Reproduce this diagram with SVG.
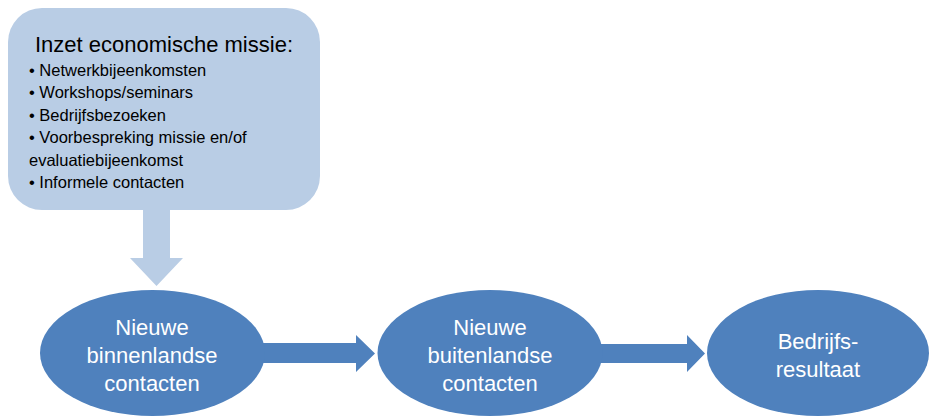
<svg xmlns="http://www.w3.org/2000/svg" width="929" height="416" viewBox="0 0 929 416">
<style>
.box{fill:#b9cde5}
.ell{fill:#4f81bd}
.arr{fill:#4f81bd}
.dn{fill:#b9cde5}
.t{font-family:"Liberation Sans",Arial,sans-serif;fill:#000}
.w{font-family:"Liberation Sans",Arial,sans-serif;fill:#fff;font-size:22px;text-anchor:middle}
</style>
<rect width="929" height="416" fill="#fff"/>
<g id="connectors">
<polygon class="dn" points="143,205 170,205 170,258 183,258 156.5,286 130,258 143,258"/>
<polygon class="arr" points="262,343 356,343 356,335 375,353.5 356,372 356,363 262,363"/>
<polygon class="arr" points="600,344 687,344 687,335 705,353.5 687,372 687,363 600,363"/>
</g>
<g id="missie">
<rect class="box" x="8" y="8" width="312" height="202" rx="34" ry="34"/>
<text class="t" x="164" y="52" font-size="22" text-anchor="middle">Inzet economische missie:</text>
<g font-size="16.5">
<text class="t" x="29" y="76">• Netwerkbijeenkomsten</text>
<text class="t" x="29" y="98">• Workshops/seminars</text>
<text class="t" x="29" y="121">• Bedrijfsbezoeken</text>
<text class="t" x="29" y="143">• Voorbespreking missie en/of</text>
<text class="t" x="29" y="166">evaluatiebijeenkomst</text>
<text class="t" x="29" y="188">• Informele contacten</text>
</g>
</g>
<g id="binnenlands">
<ellipse class="ell" cx="152.5" cy="353" rx="112.5" ry="63"/>
<text class="w" x="152" y="335">Nieuwe</text>
<text class="w" x="152" y="363">binnenlandse</text>
<text class="w" x="152" y="391">contacten</text>
</g>
<g id="buitenlands">
<ellipse class="ell" cx="490" cy="353" rx="112.5" ry="63"/>
<text class="w" x="490" y="335">Nieuwe</text>
<text class="w" x="490" y="363">buitenlandse</text>
<text class="w" x="490" y="391">contacten</text>
</g>
<g id="resultaat">
<ellipse class="ell" cx="818" cy="353" rx="111" ry="63"/>
<text class="w" x="818" y="349">Bedrijfs-</text>
<text class="w" x="818" y="377">resultaat</text>
</g>
</svg>
